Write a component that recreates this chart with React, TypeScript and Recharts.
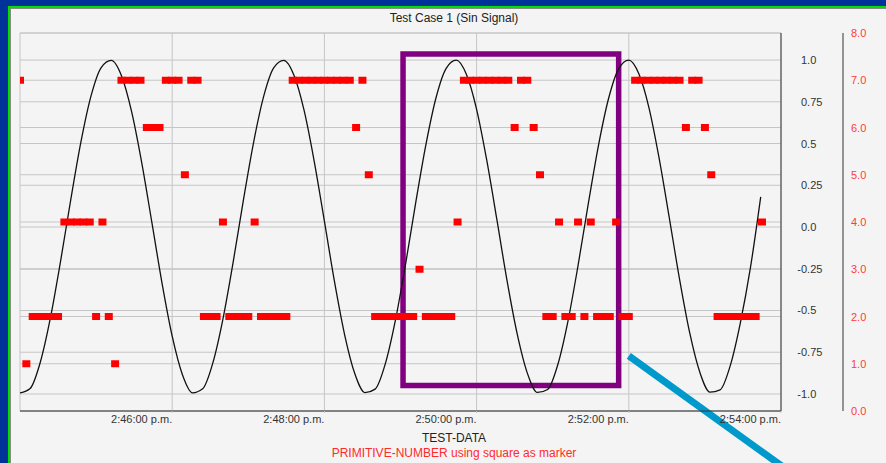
import { CartesianGrid, ComposedChart, Line, ReferenceArea, ReferenceLine, Scatter, XAxis, YAxis } from 'recharts'

// sine signal, one sample every 8 s from 2:44:00 p.m.
const SIN_STEP = 8
const sinValues = [
	-0.994, -0.967, -0.81, -0.543, -0.204, 0.163, 0.508, 0.785, 0.955, 0.998,
	0.906, 0.691, 0.384, 0.026, -0.337, -0.654, -0.883, -0.993, -0.969, -0.815,
	-0.551, -0.213, 0.155, 0.5, 0.779, 0.953, 0.998, 0.909, 0.698, 0.392,
	0.035, -0.329, -0.647, -0.879, -0.992, -0.971, -0.82, -0.558, -0.222, 0.146,
	0.492, 0.774, 0.95, 0.999, 0.913, 0.705, 0.4, 0.044, -0.321, -0.64,
	-0.875, -0.991, -0.973, -0.825, -0.565, -0.23, 0.137, 0.485, 0.768, 0.947,
	0.999, 0.916, 0.711, 0.408, 0.052, -0.312, -0.633, -0.87, -0.989, -0.975,
	-0.83, -0.572, -0.239, 0.18,
]

// primitive number, one sample every 5 s
const PRIM_STEP = 5
const primValues = [
	7, 1, 2, 2, 2, 2, 2, 4, 4, 4, 4, 4, 2, 4, 2, 1,
	7, 7, 7, 7, 6, 6, 6, 7, 7, 7, 5, 7, 7, 2, 2, 2,
	4, 2, 2, 2, 2, 4, 2, 2, 2, 2, 2,
	7, 7, 7, 7, 7, 7, 7, 7, 7, 7, 6, 7, 5,
	2, 2, 2, 2, 2, 2, 2, 3, 2, 2, 2, 2, 2, 4,
	7, 7, 7, 7, 7, 7, 7, 7, 6, 7, 7, 6, 5,
	2, 2, 4, 2, 2, 4, 2, 4, 2, 2, 2, 4, 2, 2,
	7, 7, 7, 7, 7, 7, 7, 7, 6, 7, 7, 6, 5,
	2, 2, 2, 2, 2, 2, 2, 4,
]

const timeTicks = [120, 240, 360, 480, 600]
const timeLabels = ['2:46:00 p.m.', '2:48:00 p.m.', '2:50:00 p.m.', '2:52:00 p.m.', '2:54:00 p.m.']
const sinTicks = [-1, -0.75, -0.5, -0.25, 0, 0.25, 0.5, 0.75, 1]
const primTicks = [0, 1, 2, 3, 4, 5, 6, 7, 8]

// annotations (data coordinates)
const boxX = [302, 472]
const boxY = [-0.949, 1.036]
const arrowFrom = { x: 480, y: -0.772 }
const arrowTo = { x: 615, y: -1.51 }

const sinData = sinValues.map((v, i) => ({ t: i * SIN_STEP, v }))
const primData = primValues.map((v, i) => ({ t: i * PRIM_STEP, v }))

const FONT = '"Liberation Sans", Arial, sans-serif'
const GRID = '#c6c6c6'
// axis ids: inner (sine) axis sorts first
const SIN_AXIS = 'a-sin'
const PRIM_AXIS = 'b-prim'

const fmtSin = (v: number) => {
	const a = Math.abs(v)
	return a === 0 || a === 1 || a === 0.5 ? a.toFixed(1) : String(a)
}

const SinTick = (props: any) => {
	const { x, y, payload } = props
	const neg = payload.value < 0
	return (
		<g fontFamily={FONT} fontSize={11} fill="#333">
			{neg && (
				<text x={x} y={y} textAnchor="end" dominantBaseline="central">
					-
				</text>
			)}
			<text x={x} y={y} textAnchor="start" dominantBaseline="central">
				{fmtSin(payload.value)}
			</text>
		</g>
	)
}

const PrimTick = (props: any) => {
	const { x, y, payload } = props
	return (
		<text x={x} y={y} textAnchor="start" dominantBaseline="central" fontFamily={FONT} fontSize={11} fill="#ff3b3b">
			{payload.value.toFixed(1)}
		</text>
	)
}

const TimeTick = (props: any) => {
	const { x, y, payload } = props
	const idx = timeTicks.indexOf(payload.value)
	return (
		<text x={x} y={y} dy="0.71em" textAnchor="end" fontFamily={FONT} fontSize={11} fill="#333">
			{timeLabels[idx]}
		</text>
	)
}

const SquareMarker = (props: any) => {
	const { cx, cy } = props
	if (cx == null || cy == null) return null
	return <rect x={cx - 4} y={cy - 3.5} width={8} height={7} fill="#ff0000" />
}

const App = () => {
	return (
		<div style={{ position: 'absolute', left: 0, top: 0, width: 886, height: 463, background: '#003399', overflow: 'hidden' }}>
			<div style={{ position: 'absolute', left: 8, top: 6, width: 878, height: 457, background: '#00e000' }} />
			<div
				style={{
					position: 'absolute',
					left: 10,
					top: 8,
					width: 876,
					height: 455,
					background: '#f4f4f4',
					borderTop: '1px solid #8a8a8a',
					borderLeft: '1px solid #8a8a8a',
					boxSizing: 'border-box',
				}}
			/>
			<div style={{ position: 'absolute', left: 0, top: 0 }}>
				<ComposedChart width={886} height={463} margin={{ top: 33, right: 0, left: 20, bottom: 22 }}>
					<CartesianGrid yAxisId={SIN_AXIS} stroke={GRID} vertical={false} />
					<CartesianGrid yAxisId={PRIM_AXIS} stroke={GRID} />
					<XAxis
						dataKey="t"
						type="number"
						domain={[0, 600]}
						ticks={timeTicks}
						allowDataOverflow
						height={30}
						stroke="#333"
						tickLine={{ stroke: GRID }}
						tickSize={2}
						tickMargin={2}
						tick={<TimeTick />}
					/>
					<YAxis
						yAxisId={SIN_AXIS}
						orientation="right"
						type="number"
						domain={[-1.102, 1.162]}
						ticks={sinTicks}
						allowDataOverflow
						width={62}
						stroke="#333"
						tickLine={false}
						tickSize={18}
						tickMargin={2}
						tick={<SinTick />}
					/>
					<YAxis
						yAxisId={PRIM_AXIS}
						orientation="right"
						type="number"
						domain={[0, 8]}
						ticks={primTicks}
						allowDataOverflow
						width={43}
						stroke="#333"
						tickLine={false}
						tickSize={6}
						tickMargin={2}
						tick={<PrimTick />}
					/>
					<Line
						yAxisId={SIN_AXIS}
						data={sinData}
						dataKey="v"
						type="monotone"
						stroke="#111"
						strokeWidth={1.3}
						dot={false}
						isAnimationActive={false}
					/>
					<Scatter yAxisId={PRIM_AXIS} data={primData} dataKey="v" shape={<SquareMarker />} isAnimationActive={false} />
					<ReferenceArea
						yAxisId={SIN_AXIS}
						x1={boxX[0]}
						x2={boxX[1]}
						y1={boxY[0]}
						y2={boxY[1]}
						fill="none"
						fillOpacity={0}
						stroke="#800080"
						strokeWidth={5.5}
					/>
					<ReferenceLine
						yAxisId={SIN_AXIS}
						segment={[arrowFrom, arrowTo]}
						stroke="#0099cc"
						strokeWidth={7}
						ifOverflow="visible"
					/>
				</ComposedChart>
			</div>
			<div style={{ position: 'absolute', left: 254, top: 11, width: 400, textAlign: 'center', font: `12px ${FONT}`, lineHeight: '14px', color: '#222' }}>
				Test Case 1 (Sin Signal)
			</div>
			<div style={{ position: 'absolute', left: 254, top: 431, width: 400, textAlign: 'center', font: `12px ${FONT}`, lineHeight: '14px', color: '#222' }}>
				TEST-DATA
			</div>
			<div style={{ position: 'absolute', left: 254, top: 446, width: 400, textAlign: 'center', font: `12px ${FONT}`, lineHeight: '14px', color: '#ff2a2a' }}>
				PRIMITIVE-NUMBER using square as marker
			</div>
		</div>
	)
}

export default App
